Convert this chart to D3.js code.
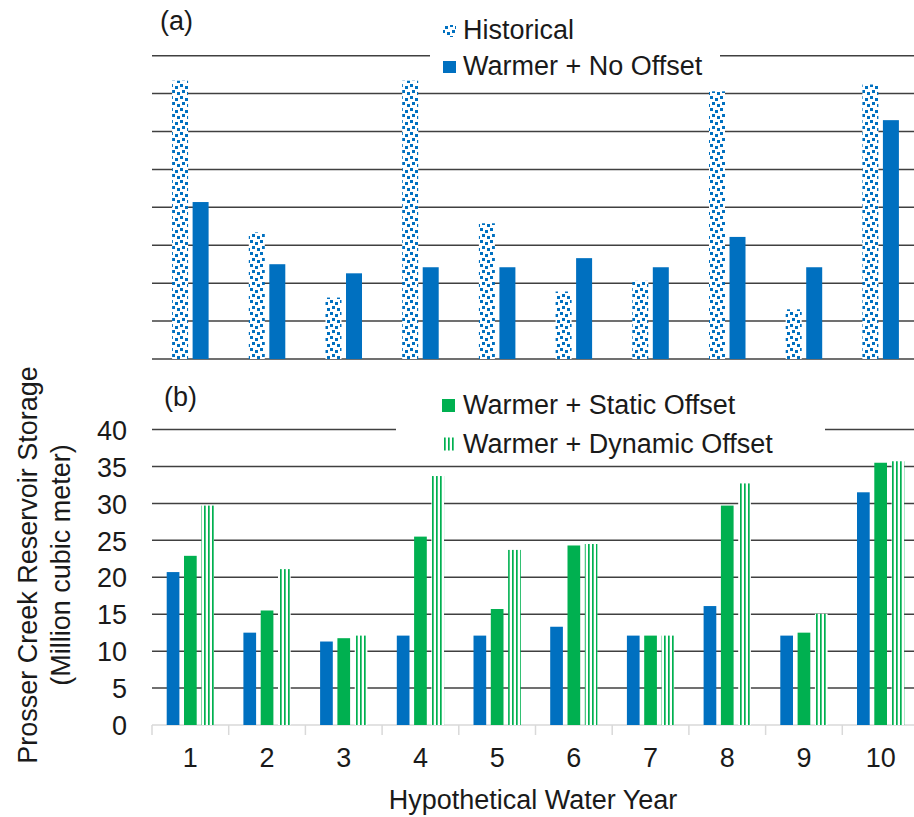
<!DOCTYPE html>
<html>
<head>
<meta charset="utf-8">
<script src="https://cdn.jsdelivr.net/npm/d3@7"></script>
<style>
  body { margin: 0; background: #fff; }
  svg { display: block; }
  text { font-family: "Liberation Sans", Arial, sans-serif; fill: #1a1a1a; }
</style>
</head>
<body>
<svg id="chart" width="914" height="817"></svg>
<script>
// ---------------- DATA ----------------
const categories = ["1", "2", "3", "4", "5", "6", "7", "8", "9", "10"];
const historical    = [36.7, 16.7, 8.1, 36.7, 17.9, 8.9, 10.3, 35.3, 6.55, 36.2];
const noOffset      = [20.7, 12.5, 11.3, 12.1, 12.1, 13.3, 12.1, 16.1, 12.1, 31.5];
const staticOffset  = [22.9, 15.5, 11.75, 25.5, 15.7, 24.3, 12.1, 29.7, 12.5, 35.5];
const dynamicOffset = [29.7, 21.1, 12.1, 33.7, 23.7, 24.5, 12.1, 32.7, 15.05, 35.7];
const yTicks = [0, 5, 10, 15, 20, 25, 30, 35, 40];
const legendTop = ["Historical", "Warmer + No Offset"];
const legendBottom = ["Warmer + Static Offset", "Warmer + Dynamic Offset"];
const yTitle = ["Prosser Creek Reservoir Storage", "(Million cubic meter)"];
const xTitle = "Hypothetical Water Year";

// ---------------- SETUP ----------------
const W = 914, H = 817;
const blue = "#0070C0", green = "#00B050", gridColor = "#404040", axisGray = "#d9d9d9";
const FS = 27;
const svg = d3.select("#chart");
svg.append("rect").attr("width", W).attr("height", H).attr("fill", "#fff");

const defs = svg.append("defs");
const conf = defs.append("pattern").attr("id", "confetti")
  .attr("patternUnits", "userSpaceOnUse").attr("width", 10).attr("height", 12);
conf.append("rect").attr("width", 10).attr("height", 12).attr("fill", "#fff");
const dots = [[0, 0], [5, 2], [2, 6], [7, 8]];
conf.selectAll("rect.d").data(dots).join("rect").attr("class", "d")
  .attr("x", d => d[0]).attr("y", d => d[1]).attr("width", 3).attr("height", 3).attr("fill", blue);

const stripes = defs.append("pattern").attr("id", "stripes")
  .attr("patternUnits", "userSpaceOnUse").attr("width", 4).attr("height", 4);
stripes.append("rect").attr("width", 4).attr("height", 4).attr("fill", "#fff");
stripes.append("rect").attr("width", 1.7).attr("height", 4).attr("fill", green);

const plotLeft = 152, plotRight = 919;
const x0 = d3.scaleBand().domain(categories).range([plotLeft, plotRight]);
const xTop = d3.scaleBand().domain(["historical", "noOffset"]).range([0, x0.bandwidth()])
  .paddingInner(0.22).paddingOuter(0.98);
const xBot = d3.scaleBand().domain(["noOffset", "static", "dynamic"]).range([0, x0.bandwidth()])
  .paddingInner(0.266).paddingOuter(0.85);

const yTop = d3.scaleLinear().domain([0, 40]).range([359, 55.7]);
const yBot = d3.scaleLinear().domain([0, 40]).range([725, 429.5]);

// ---------------- PANEL (a) ----------------
const gA = svg.append("g");
gA.selectAll("line.grid").data(yTicks).join("line").attr("class", "grid")
  .attr("x1", plotLeft).attr("x2", W).attr("y1", d => yTop(d)).attr("y2", d => yTop(d))
  .attr("stroke", gridColor).attr("stroke-width", 1.5);

const topSeries = [
  { key: "historical", values: historical, fill: "url(#confetti)" },
  { key: "noOffset", values: noOffset, fill: blue }
];
topSeries.forEach(s => {
  gA.selectAll(null).data(s.values).join("rect")
    .attr("x", (d, i) => x0(categories[i]) + xTop(s.key))
    .attr("width", xTop.bandwidth())
    .attr("y", d => yTop(d))
    .attr("height", d => yTop(0) - yTop(d))
    .attr("fill", s.fill);
});

// legend (a)
const legA = svg.append("g");
legA.append("rect").attr("x", 430).attr("y", 6).attr("width", 290).attr("height", 80).attr("fill", "#fff");
const legAFills = ["url(#confetti)", blue];
legendTop.forEach((t, i) => {
  const by = 39 + i * 36;
  legA.append("rect").attr("x", 443).attr("y", by - 14).attr("width", 13).attr("height", 12)
    .attr("fill", legAFills[i]);
  legA.append("text").attr("x", 463).attr("y", by).attr("font-size", FS).text(t);
});

svg.append("text").attr("x", 160).attr("y", 30).attr("font-size", FS).text("(a)");

// ---------------- PANEL (b) ----------------
const gB = svg.append("g");
gB.selectAll("line.grid").data(yTicks.filter(d => d > 0)).join("line").attr("class", "grid")
  .attr("x1", plotLeft).attr("x2", W).attr("y1", d => yBot(d)).attr("y2", d => yBot(d))
  .attr("stroke", gridColor).attr("stroke-width", 1.5);

// x axis
gB.append("line").attr("x1", plotLeft).attr("x2", W).attr("y1", yBot(0)).attr("y2", yBot(0))
  .attr("stroke", axisGray).attr("stroke-width", 1.5);
const boundaries = categories.map(c => x0(c)).concat([x0.range()[1]]);
gB.selectAll("line.tk").data(boundaries).join("line").attr("class", "tk")
  .attr("x1", d => d).attr("x2", d => d).attr("y1", yBot(0)).attr("y2", yBot(0) + 10)
  .attr("stroke", axisGray).attr("stroke-width", 1.5);

const xAxis = d3.axisBottom(x0).tickSize(0).tickPadding(23);
const xg = gB.append("g").attr("transform", `translate(0,${yBot(0)})`).call(xAxis);
xg.select(".domain").remove();
xg.selectAll("text").attr("font-size", FS).attr("font-family", null).style("fill", "#1a1a1a");

const yAxis = d3.axisLeft(yBot).tickValues(yTicks).tickSize(0).tickPadding(25);
const yg = gB.append("g").attr("transform", `translate(${plotLeft},0)`).call(yAxis);
yg.select(".domain").remove();
yg.selectAll("text").attr("font-size", FS).attr("font-family", null).attr("dy", "0.36em").style("fill", "#1a1a1a");

const botSeries = [
  { key: "noOffset", values: noOffset, fill: blue },
  { key: "static", values: staticOffset, fill: green },
  { key: "dynamic", values: dynamicOffset, fill: "url(#stripes)" }
];
botSeries.forEach(s => {
  gB.selectAll(null).data(s.values).join("rect")
    .attr("x", (d, i) => x0(categories[i]) + xBot(s.key))
    .attr("width", xBot.bandwidth())
    .attr("y", d => yBot(d))
    .attr("height", d => yBot(0) - yBot(d))
    .attr("fill", s.fill);
});

// legend (b)
const legB = svg.append("g");
legB.append("rect").attr("x", 396).attr("y", 382).attr("width", 429).attr("height", 78).attr("fill", "#fff");
const legBFills = [green, "url(#stripes)"];
legendBottom.forEach((t, i) => {
  const by = 414 + i * 38.5;
  legB.append("rect").attr("x", 442).attr("y", by - 15).attr("width", 13).attr("height", 13).attr("fill", legBFills[i]);
  legB.append("text").attr("x", 463).attr("y", by).attr("font-size", FS).text(t);
});

svg.append("text").attr("x", 164).attr("y", 406).attr("font-size", FS).text("(b)");

// axis titles
const yt = svg.append("g").attr("transform", "translate(0,565)");
yTitle.forEach((t, i) => {
  yt.append("text").attr("transform", `translate(${37 + i * 33},0) rotate(-90)`)
    .attr("text-anchor", "middle").attr("font-size", FS).text(t);
});
svg.append("text").attr("x", 533).attr("y", 809).attr("text-anchor", "middle").attr("font-size", FS).text(xTitle);
</script>
</body>
</html>
